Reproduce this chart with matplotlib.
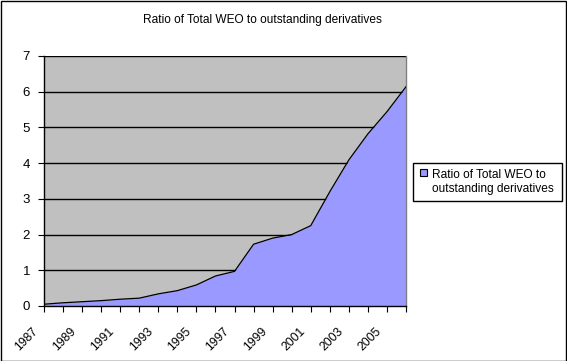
import matplotlib
matplotlib.use("Agg")
import matplotlib.pyplot as plt
from matplotlib.patches import Rectangle
from matplotlib.transforms import ScaledTranslation

years = list(range(1987, 2007))
ratio = [0.05, 0.09, 0.12, 0.15, 0.19, 0.22, 0.34, 0.43, 0.59, 0.84,
         0.97, 1.73, 1.90, 2.00, 2.25, 3.20, 4.09, 4.82, 5.44, 6.14]
tick_labels = [str(y) if (y - 1987) % 2 == 0 else "" for y in years]
title = "Ratio of Total WEO to outstanding derivatives"
legend_label = "Ratio of Total WEO to\noutstanding derivatives"

plt.rcParams['font.family'] = ['Liberation Sans', 'DejaVu Sans']

W, H = 567, 361
fig = plt.figure(figsize=(W / 100, H / 100), dpi=100)
fig.patch.set_facecolor('white')


def px(x0, y0, w, h):
    """pixel box (top-left origin) -> figure fraction rectangle args"""
    return (x0 / W, 1 - (y0 + h) / H), w / W, h / H


# outer border
fig.add_artist(Rectangle((0.5 / W, 0.5 / H), (W - 1.5) / W, (H - 1.5) / H,
                         transform=fig.transFigure, fill=False,
                         edgecolor='black', linewidth=1.0))

left, right, top, bottom = 44, 406, 56, 306
ax = fig.add_axes([left / W, (H - bottom) / H, (right - left) / W, (bottom - top) / H])
ax.set_facecolor('#C0C0C0')

x = list(range(len(years)))
ax.fill_between(x, 0, ratio, color='#9999FF', linewidth=0, zorder=2,
                label=legend_label)
ax.plot(x, ratio, color='black', linewidth=0.9, zorder=3)

ax.set_xlim(0, len(years) - 1)
ax.set_ylim(0, 7)
ax.set_yticks(range(0, 8))
ax.yaxis.grid(True, color='black', linewidth=1.0, zorder=1)
ax.set_axisbelow(True)

ax.set_xticks(x)
ax.set_xticklabels(tick_labels, rotation=45, fontsize=8.8)
ax.tick_params(axis='x', length=4, width=0.8, direction='out', pad=0, colors='black')
ax.tick_params(axis='y', length=4, width=0.8, direction='out', pad=6, labelsize=9.5)
offset = ScaledTranslation(-7.5 / 100, -18 / 100, fig.dpi_scale_trans)
for lab in ax.get_xticklabels():
    lab.set_rotation_mode('anchor')
    lab.set_ha('right')
    lab.set_va('center')
    lab.set_transform(lab.get_transform() + offset)

ax.spines['top'].set_visible(False)
ax.spines['right'].set_color('#808080')
ax.spines['right'].set_linewidth(1.0)
ax.spines['left'].set_color('black')
ax.spines['bottom'].set_color('black')
ax.spines['left'].set_linewidth(1.0)
ax.spines['bottom'].set_linewidth(1.0)
ax.spines['bottom'].set_zorder(4)

fig.text(262 / W, 1 - 20 / H, title, ha='center', va='center', fontsize=8.6)

# legend box drawn to match the reference placement
xy, w, h = px(413, 163, 149, 38)
fig.add_artist(Rectangle(xy, w, h, transform=fig.transFigure, facecolor='white',
                         edgecolor='black', linewidth=1.0))
xy, w, h = px(420, 169, 7, 7)
fig.add_artist(Rectangle(xy, w, h, transform=fig.transFigure, facecolor='#9999FF',
                         edgecolor='black', linewidth=0.8))
fig.text(432 / W, 1 - 182 / H, legend_label, ha='left', va='center',
         fontsize=8.6, linespacing=1.3)

fig.savefig('out.png', dpi=100)
